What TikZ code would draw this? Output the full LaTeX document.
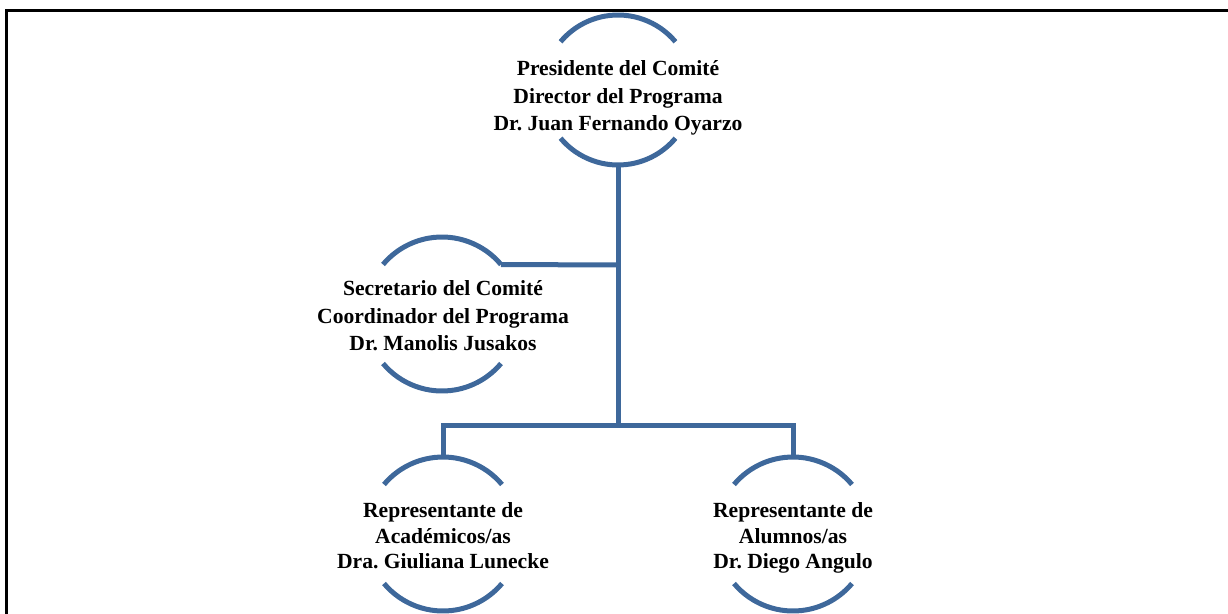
\documentclass[tikz,border=0pt]{standalone}
\usepackage{fontspec}
\setmainfont{Liberation Serif}
\frenchspacing
\definecolor{orgblue}{RGB}{62,104,155}
\newcommand\orgcircle[2]{%
  \draw[arcline] ([shift={(40:#2pt)}]#1) arc[start angle=40,end angle=140,radius=#2pt];
  \draw[arcline] ([shift={(220:#2pt)}]#1) arc[start angle=220,end angle=320,radius=#2pt];
}
\begin{document}
\begin{tikzpicture}[x=1pt,y=-1pt,
  arcline/.style={draw=orgblue,line width=5pt},
  link/.style={draw=orgblue,line width=5pt,line join=miter},
  frame/.style={draw=black,line width=3pt},
  txt/.style={align=center,inner sep=0pt,font=\bfseries\fontsize{21.6}{27.5}\selectfont},
  txtb/.style={align=center,inner sep=0pt,font=\bfseries\fontsize{21.6}{25.5}\selectfont}]
\useasboundingbox (0,0) rectangle (1228,613);
\draw[frame] (6,640) -- (6,10) -- (1260,10);
% circle centres
\coordinate (c1) at (618,90);
\coordinate (c2) at (442,314);
\coordinate (c3) at (443,534);
\coordinate (c4) at (793,534);
\orgcircle{c1}{75}
\orgcircle{c2}{77}
\orgcircle{c3}{77}
\orgcircle{c4}{77}
% texts
\node[txt] (pres) at (618,98) {Presidente del Comité\\Director del Programa\\Dr. Juan Fernando Oyarzo};
\node[txt] (sec) at (443,316) {Secretario del Comité\\Coordinador del Programa\\Dr. Manolis Jusakos};
\node[txtb] (acad) at (443,536) {Representante de\\Académicos/as\\Dra. Giuliana Lunecke};
\node[txtb] (alum) at (793,538) {Representante de\\Alumnos/as\\Dr. Diego Angulo};
% connector points
\coordinate (c1b) at (618,165);
\coordinate (j1) at (618,265);
\coordinate (c2e) at ([shift={(40:77pt)}]c2);
\coordinate (j2) at (618,425);
\coordinate (jl) at (443,425);
\coordinate (jr) at (793,425);
\coordinate (c3t) at (443,457);
\coordinate (c4t) at (793,457);
\draw[link] (c1b) -- (j2);
\draw[link] (j1) -- (c2e);
\draw[link] (c3t) -- (jl) -- (jr) -- (c4t);
\end{tikzpicture}
\end{document}
